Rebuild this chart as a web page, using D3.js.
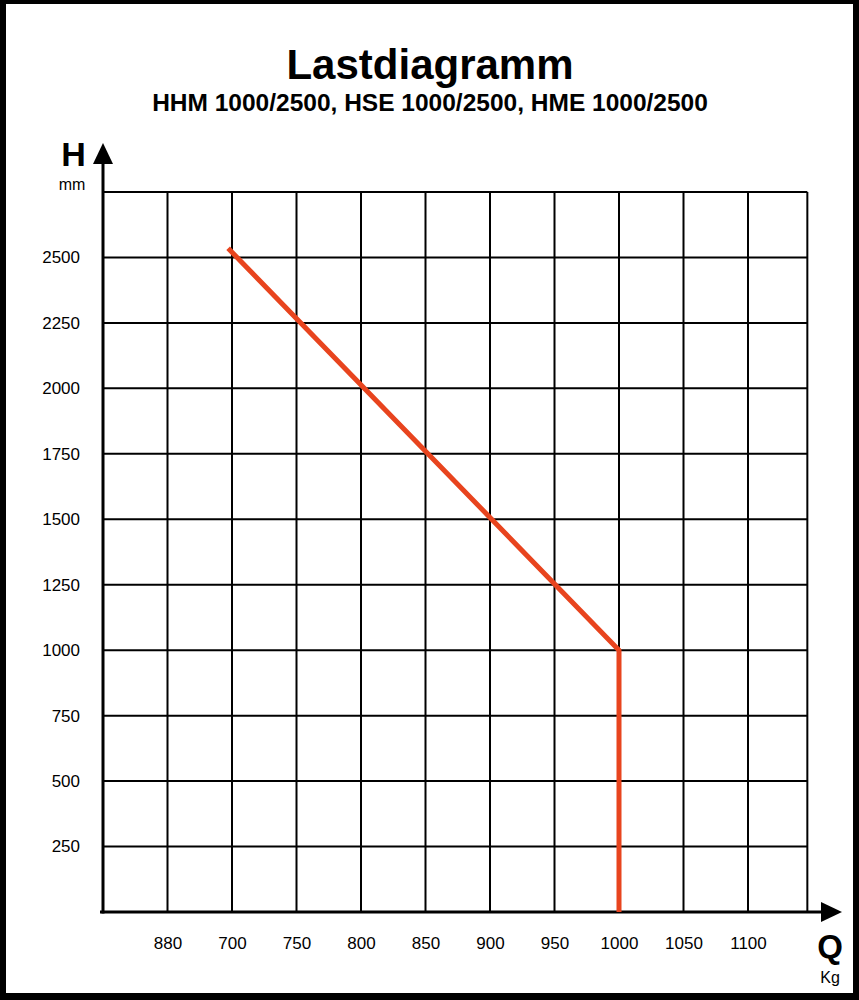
<!DOCTYPE html>
<html>
<head>
<meta charset="utf-8">
<script src="https://cdn.jsdelivr.net/npm/d3@7/dist/d3.min.js"></script>
<style>
  html, body { margin: 0; padding: 0; background: #fff; }
  svg { display: block; font-family: "Liberation Sans", Arial, Helvetica, sans-serif; }
</style>
</head>
<body>
<svg id="chart" width="859" height="1000"></svg>
<script>
// ---- data ----
const titleText = "Lastdiagramm";
const subtitleText = "HHM 1000/2500, HSE 1000/2500, HME 1000/2500";
const xTickValues = [650, 700, 750, 800, 850, 900, 950, 1000, 1050, 1100];
const xTickLabels = ["880", "700", "750", "800", "850", "900", "950", "1000", "1050", "1100"];
const yTickValues = [250, 500, 750, 1000, 1250, 1500, 1750, 2000, 2250, 2500];
const yTickLabels = ["250", "500", "750", "1000", "1250", "1500", "1750", "2000", "2250", "2500"];
const loadQ = [697, 1000, 1000];   // Kg
const loadH = [2535, 1000, 0];     // mm
const xGridMin = 600, xGridMax = 1146;
const yGridMin = 0, yGridMax = 2750;

// ---- layout ----
const svg = d3.select("#chart");
const W = 859, H = 1000;

// outer frame
svg.append("rect").attr("x", 0).attr("y", 0).attr("width", W).attr("height", H).attr("fill", "#000");
svg.append("rect").attr("x", 6).attr("y", 4).attr("width", W - 6 - 6).attr("height", H - 4 - 7).attr("fill", "#fff");

const x = d3.scaleLinear().domain([600, 1100]).range([103, 748]);
const y = d3.scaleLinear().domain([0, 2750]).range([912, 192]);

// titles
svg.append("text").attr("x", 430).attr("y", 79).attr("text-anchor", "middle")
  .attr("font-size", 42).attr("font-weight", "bold").attr("fill", "#000").text(titleText);
svg.append("text").attr("x", 430).attr("y", 111).attr("text-anchor", "middle")
  .attr("font-size", 24.5).attr("font-weight", "bold").attr("fill", "#000").text(subtitleText);

// grid
const grid = svg.append("g").attr("stroke", "#000").attr("stroke-width", 2);
grid.selectAll("line.v").data(xTickValues.concat([xGridMax])).join("line").attr("class", "v")
  .attr("x1", d => x(d)).attr("x2", d => x(d))
  .attr("y1", y(yGridMin)).attr("y2", y(yGridMax));
grid.selectAll("line.h").data(yTickValues.concat([yGridMax])).join("line").attr("class", "h")
  .attr("y1", d => y(d)).attr("y2", d => y(d))
  .attr("x1", x(xGridMin)).attr("x2", x(xGridMax));

// axis labels via d3 axes
const xAxis = d3.axisBottom(x).tickValues(xTickValues).tickSize(0).tickPadding(25)
  .tickFormat((d, i) => xTickLabels[i]);
const gx = svg.append("g").attr("transform", `translate(0,${y(0)})`).call(xAxis);
gx.select(".domain").remove();
gx.selectAll("text").attr("font-size", 17).attr("fill", "#000")
  .attr("font-family", "'Liberation Sans', Arial, sans-serif");

const yAxis = d3.axisLeft(y).tickValues(yTickValues).tickSize(0).tickPadding(23)
  .tickFormat((d, i) => yTickLabels[i]);
const gy = svg.append("g").attr("transform", `translate(${x(xGridMin)},0)`).call(yAxis);
gy.select(".domain").remove();
gy.selectAll("text").attr("font-size", 17).attr("fill", "#000")
  .attr("font-family", "'Liberation Sans', Arial, sans-serif");

// main axes with arrows
const x0 = x(xGridMin), y0 = y(0);
svg.append("line").attr("x1", x0).attr("x2", x0).attr("y1", y0 + 1.5).attr("y2", 158)
  .attr("stroke", "#000").attr("stroke-width", 3);
svg.append("path").attr("d", `M${x0},143 L${x0 - 10},164 L${x0 + 10},164 Z`).attr("fill", "#000");
svg.append("line").attr("x1", x0 - 3).attr("x2", 826).attr("y1", y0).attr("y2", y0)
  .attr("stroke", "#000").attr("stroke-width", 3);
svg.append("path").attr("d", `M842,${y0} L821,${y0 - 10} L821,${y0 + 10} Z`).attr("fill", "#000");

// axis names
svg.append("text").attr("x", 73.5).attr("y", 166).attr("text-anchor", "middle")
  .attr("font-size", 34).attr("font-weight", "bold").text("H");
svg.append("text").attr("x", 72).attr("y", 190).attr("text-anchor", "middle")
  .attr("font-size", 16).text("mm");
svg.append("text").attr("x", 830).attr("y", 958).attr("text-anchor", "middle")
  .attr("font-size", 33).attr("font-weight", "bold").text("Q");
svg.append("text").attr("x", 830).attr("y", 983).attr("text-anchor", "middle")
  .attr("font-size", 16).text("Kg");

// load curve
const pts = loadQ.map((q, i) => [q, loadH[i]]);
svg.append("path").datum(pts)
  .attr("d", d3.line().x(d => x(d[0])).y(d => y(d[1])))
  .attr("fill", "none").attr("stroke", "#e8441e").attr("stroke-width", 5)
  .attr("stroke-linejoin", "round").attr("stroke-linecap", "butt");
</script>
</body>
</html>
